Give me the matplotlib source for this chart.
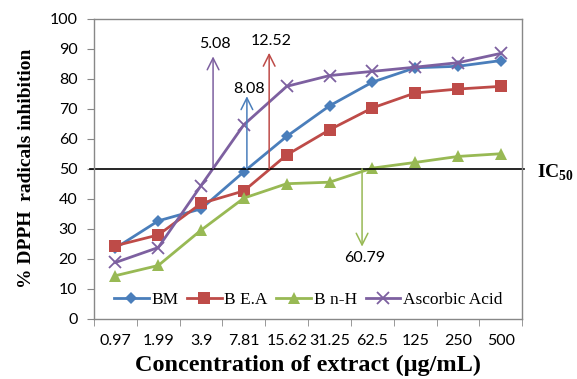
import matplotlib
matplotlib.use("Agg")
import matplotlib.pyplot as plt

categories = ["0.97", "1.99", "3.9", "7.81", "15.62", "31.25", "62.5", "125", "250", "500"]
bm = [23.5, 32.6, 36.6, 49.0, 60.8, 71.0, 78.9, 83.7, 84.2, 86.1]
bea = [24.3, 27.9, 38.4, 42.6, 54.6, 63.0, 70.3, 75.3, 76.6, 77.5]
bnh = [14.3, 17.7, 29.5, 40.2, 45.0, 45.5, 50.2, 52.1, 54.1, 55.0]
asc = [18.7, 23.7, 44.4, 64.7, 77.5, 81.1, 82.5, 83.9, 85.4, 88.5]
series_names = ["BM", "B E.A", "B n-H", "Ascorbic Acid"]
ic50_values = ["5.08", "8.08", "12.52", "60.79"]
ic50_level = 50

plt.rcParams['mathtext.fontset'] = 'custom'
plt.rcParams['mathtext.bf'] = 'Liberation Serif:bold'
plt.rcParams['mathtext.rm'] = 'Liberation Serif'

fig = plt.figure(figsize=(5.77, 3.79), dpi=100)
ax = fig.add_axes([0.163, 0.1596, 0.742, 0.7904])

x = list(range(len(categories)))
colors = ["#4A7EBB", "#BE4B48", "#98B954", "#7D60A0"]
markers = ["D", "s", "^", "x"]
msizes = [6, 9, 8, 8]
data = [bm, bea, bnh, asc]
for d, c, m, ms, name in zip(data, colors, markers, msizes, series_names):
    kw = dict(markeredgewidth=1.3) if m == "x" else dict(markeredgewidth=0)
    ax.plot(x, d, color=c, marker=m, markersize=ms, linewidth=2, label=name, **kw)

ax.set_xlim(-0.5, len(categories) - 0.5)
ax.set_ylim(0, 100)
ax.set_yticks(range(0, 101, 10))
ax.set_xticks(x)
ax.set_xticklabels(categories)
ax.set_xticks([i + 0.5 for i in range(-1, len(categories))], minor=True)
ax.tick_params(axis='x', which='major', length=0, pad=11, labelsize=11.5)
ax.tick_params(axis='x', which='minor', length=5, color='#888888')
ax.tick_params(axis='y', length=5, color='#888888', labelsize=11.5, pad=7)
for lab in ax.get_xticklabels() + ax.get_yticklabels():
    lab.set_fontfamily('Lato')
for s in ax.spines.values():
    s.set_color('#888888')
    s.set_linewidth(1)

# IC50 line
ax.plot([-0.6, 9.55], [ic50_level, ic50_level], color='black', linewidth=1.2, clip_on=False)
ax.text(9.85, ic50_level - 1.5, r'$\mathbf{IC}_{\mathbf{50}}$', fontsize=14, va='center', ha='left')

# arrows
arr = [(2.28, 87.5, colors[3], ic50_values[0], 91.5),
       (3.07, 74.2, colors[0], ic50_values[1], 76.7),
       (3.59, 88.7, colors[1], ic50_values[2], 92.5),
       (5.76, 24.0, colors[2], ic50_values[3], 20.2)]
for xa, ytip, c, lab, ylab in arr:
    ax.annotate('', xy=(xa, ytip), xytext=(xa, ic50_level),
                arrowprops=dict(arrowstyle='->,head_length=0.6,head_width=0.3', color=c, lw=1.1,
                                mutation_scale=14, shrinkA=0, shrinkB=0))
    ax.text(xa + 0.05, ylab, lab, ha='center', va='center', fontsize=11.5, family='Lato')

leg = ax.legend(loc='lower center', ncol=4, frameon=False, bbox_to_anchor=(0.5, 0.0),
                prop={'family': 'Liberation Serif', 'size': 12.5}, handlelength=2.0,
                columnspacing=0.5, handletextpad=0.15, borderaxespad=0.2)

ax.set_ylabel('% DPPH  radicals inhibition', family='Liberation Serif', fontweight='bold',
              fontsize=14, labelpad=10)
ax.set_xlabel('Concentration of extract (μg/mL)', family='Liberation Serif', fontweight='bold',
              fontsize=17.5, labelpad=5)

fig.savefig('out.png', dpi=100)
